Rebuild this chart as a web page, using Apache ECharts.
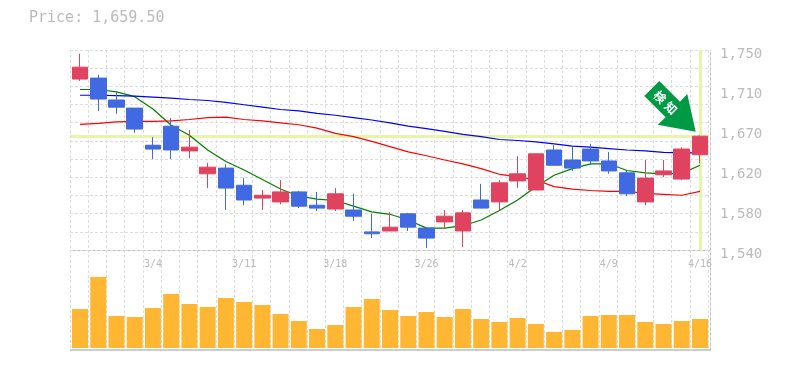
<!DOCTYPE html>
<html>
<head>
<meta charset="utf-8">
<style>
  html, body { margin: 0; padding: 0; background: #fff; }
  #chart { width: 785px; height: 370px; }
</style>
<script src="https://cdn.jsdelivr.net/npm/echarts@6/dist/echarts.min.js"></script>
</head>
<body>
<div id="chart"></div>
<script>
const dates = ['2/26','2/27','2/28','3/1','3/4','3/5','3/6','3/7','3/8','3/11','3/12','3/13','3/14','3/15',
  '3/18','3/19','3/20','3/22','3/25','3/26','3/27','3/28','3/29','4/1','4/2','4/3','4/4','4/5','4/8',
  '4/9','4/10','4/11','4/12','4/15','4/16'];
const opens = [1719.5,1720.5,1697.5,1689,1650,1670,1644,1620,1626,1608,1594.5,1590.5,1601,1587,1583,1582,1559,1560,1578,1563,1569.5,1560,1592.5,1590.5,1612.5,1603,1645,1634.5,1646,1633.5,1621,1590.5,1619,1614.5,1640];
const closes = [1732,1698.5,1690,1667,1646,1645,1648,1627,1605,1592.5,1597.5,1601,1586,1584,1599,1575.5,1557,1564,1564,1552.5,1575.5,1579,1584,1610.5,1620,1641,1629,1626,1633.5,1623,1599,1615.5,1623,1646,1659.5];
const lows = [1717.5,1686,1683,1663,1635.5,1635.5,1636.5,1605,1582,1587,1582,1588,1584,1581,1581,1570.5,1552.5,1560,1560,1542,1563,1543,1584,1582,1605,1603,1629,1623,1629,1620,1596.5,1587,1616.5,1613.5,1631];
const highs = [1746,1724,1706,1689,1658.5,1678.5,1666,1631.5,1630,1615.5,1603,1613.5,1602,1601,1605,1599,1578,1580,1579,1564,1582,1582,1609.5,1613.5,1638.5,1641,1650,1648,1651.5,1643,1623,1634.5,1634.5,1648,1660.5];
const maShort = [1708.5,1708.5,1706,1701,1688,1671,1660.5,1645,1633,1624,1614,1604,1596.5,1593.5,1592,1586,1580,1577.5,1571.5,1563,1563,1565.5,1571.5,1581.5,1592.5,1606.5,1618.5,1625.5,1630.5,1630.5,1623.5,1621,1620,1620.5,1629];
const maMid = [1672,1673,1674.5,1675,1675,1675.5,1677,1679,1679.5,1677,1675.5,1673.5,1671.5,1668,1662.5,1659,1654,1648.5,1643,1639,1634.5,1630.5,1625.5,1619.5,1617,1613.5,1606.5,1604,1602.5,1601.5,1601.5,1599.5,1598.5,1597.5,1601.5];
const maLong = [1702.5,1702.5,1702,1701.5,1700.5,1699.5,1698,1697,1695,1692.5,1690,1687.5,1686,1683.5,1681.5,1679,1676.5,1673.5,1670,1667.5,1664.5,1661.5,1659,1656,1655,1653.5,1651.5,1649,1648,1646.5,1645,1644,1642.5,1642,1642];
const volumes = [39,71,32,31,40,54,44,41,50,46,43,34,27,19,23,41,49,38,32,36,31,39,29,26,30,24,16,18,32,33,33,26,24,27,29];
const yTicks = [1540,1582,1624,1666,1708,1750];
const xLabels = ['3/4','3/11','3/18','3/26','4/2','4/9','4/16'];
const lastPrice = 1659.5;

const gridGray = '#dddddd';
const frameGray = '#bdbdbd';
const labelGray = '#bbbbbb';
const monoFont = '"DejaVu Sans Mono", monospace';
const crossColor = '#e6f5a8';

const candles = dates.map((d, i) => [opens[i], closes[i], lows[i], highs[i]]);

const chart = echarts.init(document.getElementById('chart'), null, { renderer: 'canvas' });

const dashed = { show: true, lineStyle: { color: gridGray, type: [3, 2], width: 1 } };

chart.setOption({
  animation: false,
  backgroundColor: '#fff',
  title: {
    text: 'Price: 1,659.50',
    left: 24,
    top: 6,
    textStyle: { color: labelGray, fontFamily: monoFont, fontSize: 15, fontWeight: 'normal' }
  },
  grid: [
    { left: 70.9, width: 638.2, top: 50, height: 200 }, // candles
    { left: 70.9, width: 638.2, top: 250, height: 100 }, // volume
    { left: 70, width: 640, top: 50, height: 200 }, // dotted backdrop
    { left: 70, width: 640, top: 250, height: 100 }
  ],
  xAxis: [
    {
      type: 'category', gridIndex: 0, data: dates, position: 'bottom',
      axisLine: { show: false }, axisTick: { show: false }, splitLine: { show: false },
      axisLabel: {
        color: labelGray, fontFamily: monoFont, fontSize: 10, margin: 9,
        interval: (i, v) => xLabels.includes(v)
      }
    },
    { type: 'category', gridIndex: 1, data: dates, axisLine: { show: false }, axisTick: { show: false }, axisLabel: { show: false } },
    { type: 'value', gridIndex: 2, min: 0, max: 35.1, interval: 1, axisLine: { show: false }, axisTick: { show: false }, axisLabel: { show: false }, splitLine: dashed },
    { type: 'value', gridIndex: 3, min: 0, max: 35.1, interval: 1, axisLine: { show: false }, axisTick: { show: false }, axisLabel: { show: false }, splitLine: dashed }
  ],
  yAxis: [
    {
      type: 'value', gridIndex: 0, min: 1540, max: 1750, position: 'right',
      axisLine: { show: false }, axisTick: { show: false }, splitLine: { show: false },
      axisLabel: {
        customValues: yTicks,
        color: labelGray, fontFamily: monoFont, fontSize: 14, margin: 11,
        verticalAlign: 'top', padding: [-3, 0, 0, 0],
        formatter: v => (Math.round(v / 10) * 10).toLocaleString('en-US')
      }
    },
    { type: 'value', gridIndex: 1, min: -2, max: 98, axisLine: { show: false }, axisTick: { show: false }, axisLabel: { show: false }, splitLine: { show: false } },
    { type: 'value', gridIndex: 2, min: 0, max: 11, interval: 1, axisLine: { show: false }, axisTick: { show: false }, axisLabel: { show: false }, splitLine: dashed },
    { type: 'value', gridIndex: 3, min: 0, max: 1, interval: 1, axisLine: { show: false }, axisTick: { show: false }, axisLabel: { show: false }, splitLine: { show: false } }
  ],
  series: [
    {
      name: 'Short MA', type: 'line', data: maShort, xAxisIndex: 0, yAxisIndex: 0, z: 3,
      showSymbol: false, lineStyle: { color: '#008000', width: 1.2 }
    },
    {
      name: 'Mid MA', type: 'line', data: maMid, xAxisIndex: 0, yAxisIndex: 0, z: 3,
      showSymbol: false, lineStyle: { color: '#ff0000', width: 1.2 }
    },
    {
      name: 'Long MA', type: 'line', data: maLong, xAxisIndex: 0, yAxisIndex: 0, z: 3,
      showSymbol: false, lineStyle: { color: '#0000ff', width: 1.2 }
    },
    {
      name: 'Price', type: 'candlestick', data: candles, xAxisIndex: 0, yAxisIndex: 0, z: 4,
      barWidth: 16,
      itemStyle: { color: '#e0435f', color0: '#4169e1', borderColor: '#e0435f', borderColor0: '#4169e1', borderWidth: 1 }
    },
    {
      name: 'Cross', type: 'line', data: [], xAxisIndex: 0, yAxisIndex: 0, z: 2,
      markLine: {
        silent: true, symbol: 'none', label: { show: false }, animation: false, z: 2,
        lineStyle: { color: crossColor, width: 3, type: 'solid' },
        data: [{ yAxis: lastPrice }, { xAxis: dates[dates.length - 1] }]
      }
    },
    {
      name: 'Volume', type: 'bar', data: volumes, xAxisIndex: 1, yAxisIndex: 1, z: 3,
      barWidth: 16, itemStyle: { color: '#ffb733' }
    }
  ],
  graphic: [
    // frame
    { type: 'line', shape: { x1: 70, y1: 250.5, x2: 710, y2: 250.5 }, style: { stroke: frameGray, lineWidth: 1 } },
    { type: 'line', shape: { x1: 70, y1: 350, x2: 711, y2: 350 }, style: { stroke: frameGray, lineWidth: 1.5 } },
    { type: 'line', shape: { x1: 710.5, y1: 50, x2: 710.5, y2: 350 }, style: { stroke: frameGray, lineWidth: 1 } },
    // signal arrow
    {
      type: 'polygon', z: 10,
      shape: { points: [[659.3, 81], [680, 101.7], [687.3, 94], [695.7, 131.7], [657.7, 124.7], [665.7, 117.3], [644.3, 96]] },
      style: { fill: '#009944' }
    },
    {
      type: 'text', z: 11, x: 660, y: 97, rotation: -Math.PI / 4,
      style: { text: '検', fill: '#fff', font: 'bold 12px "Noto Sans CJK JP"', textAlign: 'center', textVerticalAlign: 'middle' }
    },
    {
      type: 'text', z: 11, x: 671, y: 108, rotation: -Math.PI / 4,
      style: { text: '知', fill: '#fff', font: 'bold 12px "Noto Sans CJK JP"', textAlign: 'center', textVerticalAlign: 'middle' }
    }
  ]
});
</script>
</body>
</html>
